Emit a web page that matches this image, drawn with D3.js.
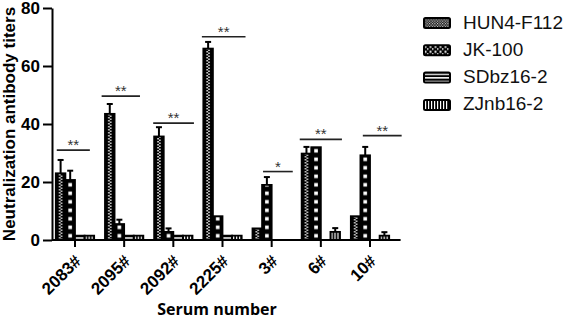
<!DOCTYPE html>
<html>
<head>
<meta charset="utf-8">
<script src="https://d3js.org/d3.v7.min.js"></script>
<style>
  body { margin: 0; background: #fff; }
  svg { font-family: "Liberation Sans", Arial, sans-serif; }
</style>
</head>
<body>
<script>
// data
var groups = ["2083#", "2095#", "2092#", "2225#", "3#", "6#", "10#"];
var seriesNames = ["HUN4-F112", "JK-100", "SDbz16-2", "ZJnb16-2"];
var hun4 = [23, 43.5, 35.7, 66, 4, 29.8, 8.2];
var hun4Err = [4.6, 3.4, 3.2, 2.3, 0, 2.3, 0];
var jk100 = [20.7, 5.5, 2.8, 8.2, 19, 32, 29.2];
var jk100Err = [3.2, 1.5, 1.2, 0, 2.7, 0, 2.9];
var sdbz = [1.5, 1.5, 1.5, 1.5, 0, 0, 0];
var sdbzErr = [0, 0, 0, 0, 0, 0, 0];
var zjnb = [1.5, 1.5, 1.5, 1.5, 0, 2.8, 1.5];
var zjnbErr = [0, 0, 0, 0, 0, 1.3, 1.2];
var yTicks = [0, 20, 40, 60, 80];
// significance marks: level (y value), start/end in bar units from group start
var sigLabel = ["**", "**", "**", "**", "*", "**", "**"];
var sigY = [31, 49.6, 40.3, 70.1, 23.6, 34.7, 36];
var sigFrom = [0.1, -0.35, -0.1, -0.15, 1.1, -0.2, 1.25];
var sigTo = [3.55, 3.65, 4.15, 4.4, 4.2, 4.2, 5.3];

var values = [hun4, jk100, sdbz, zjnb];
var errs = [hun4Err, jk100Err, sdbzErr, zjnbErr];

var w = 563, h = 320;
var svg = d3.select("body").append("svg").attr("width", w).attr("height", h);
var defs = svg.append("defs");

var x = d3.scaleBand().domain(groups).range([50.4, 394.6]).paddingInner(0.22).paddingOuter(0.11);
var xs = d3.scaleBand().domain(d3.range(4)).range([0, x.bandwidth()]);
var y = d3.scaleLinear().domain([0, 80]).range([240, 8]);

// pattern fills, tile content per series
function fillTile(p, s, tw, legend) {
  p.append("rect").attr("width", tw).attr("height", 40).attr("fill", "#000");
  if (s == 0) {
    if (legend) {
      p.attr("width", 2.6).attr("height", 2.6);
      p.append("rect").attr("x", 0).attr("y", 0).attr("width", 1.1).attr("height", 1.1).attr("fill", "#fff");
      p.append("rect").attr("x", 1.3).attr("y", 1.3).attr("width", 1.1).attr("height", 1.1).attr("fill", "#fff");
    } else {
      p.attr("height", 3);
      p.append("rect").attr("x", tw / 2 - 1.6).attr("y", 0).attr("width", 1.4).attr("height", 1.5).attr("fill", "#fff");
      p.append("rect").attr("x", tw / 2 + 0.2).attr("y", 1.5).attr("width", 1.4).attr("height", 1.5).attr("fill", "#fff");
    }
  } else if (s == 1) {
    if (legend) {
      p.attr("width", 5).attr("height", 5);
      p.append("rect").attr("x", 0.5).attr("y", 0.5).attr("width", 2).attr("height", 2).attr("fill", "#fff");
      p.append("rect").attr("x", 3).attr("y", 3).attr("width", 1.5).attr("height", 1.5).attr("fill", "#fff");
    } else {
      p.attr("height", 8.5);
      p.append("rect").attr("x", tw / 2 - 1.8).attr("y", 2.5).attr("width", 3.6).attr("height", 3.6).attr("fill", "#fff");
    }
  } else if (s == 2) {
    p.attr("height", 3.6);
    p.append("rect").attr("x", 0).attr("y", 0.9).attr("width", tw).attr("height", 1.5).attr("fill", "#fff");
  } else {
    p.attr("width", 3).attr("height", 10);
    p.append("rect").attr("x", 1).attr("y", 0).attr("width", 1.2).attr("height", 10).attr("fill", "#fff");
  }
}

var bars = [];
groups.forEach(function (g, gi) {
  values.forEach(function (vals, s) {
    bars.push({ g: g, gi: gi, s: s, v: vals[gi], e: errs[s][gi] });
  });
});

bars.forEach(function (d) {
  var bx = x(d.g) + xs(d.s);
  var p = defs.append("pattern").attr("id", "p" + d.s + "_" + d.gi)
    .attr("patternUnits", "userSpaceOnUse")
    .attr("x", bx).attr("y", y(0)).attr("width", xs.bandwidth());
  fillTile(p, d.s, xs.bandwidth(), false);
});

svg.append("g").selectAll("rect").data(bars.filter(function (d) { return d.v > 0; })).enter()
  .append("rect")
  .attr("x", function (d) { return x(d.g) + xs(d.s); })
  .attr("y", function (d) { return y(d.v); })
  .attr("width", xs.bandwidth())
  .attr("height", function (d) { return y(0) - y(d.v); })
  .attr("fill", function (d) { return "url(#p" + d.s + "_" + d.gi + ")"; })
  .attr("stroke", "#000").attr("stroke-width", 1.8);

// error bars (upper)
var eb = svg.append("g").attr("stroke", "#000").attr("stroke-width", 2);
bars.filter(function (d) { return d.e > 0; }).forEach(function (d) {
  var cx = x(d.g) + xs(d.s) + xs.bandwidth() / 2;
  eb.append("line").attr("x1", cx).attr("x2", cx).attr("y1", y(d.v)).attr("y2", y(d.v + d.e));
  eb.append("line").attr("x1", cx - 3).attr("x2", cx + 3).attr("y1", y(d.v + d.e)).attr("y2", y(d.v + d.e));
});

// significance lines
var unit = xs.bandwidth();
groups.forEach(function (g, i) {
  var x1 = x(g) + sigFrom[i] * unit, x2 = x(g) + sigTo[i] * unit;
  svg.append("line").attr("x1", x1).attr("x2", x2).attr("y1", y(sigY[i])).attr("y2", y(sigY[i]))
    .attr("stroke", "#222").attr("stroke-width", 1.6);
  svg.append("text").attr("x", (x1 + x2) / 2).attr("y", y(sigY[i]) + 0)
    .attr("text-anchor", "middle").style("font-size", "15px").attr("fill", "#333").text(sigLabel[i]);
});

// y axis
var yAxis = d3.axisLeft(y).tickValues(yTicks).tickSize(9).tickPadding(3).tickSizeOuter(0);
var gy = svg.append("g").attr("transform", "translate(52,0)").call(yAxis);
gy.selectAll("path, line").attr("stroke", "#000").attr("stroke-width", 2);
gy.selectAll("text").style("font-size", "17px").style("font-weight", "bold").attr("fill", "#000");

// x axis
var xAxis = d3.axisBottom(x).tickSize(7).tickSizeOuter(0);
var gx = svg.append("g").attr("transform", "translate(0,240)").call(xAxis);
gx.select(".domain").remove();
gx.append("line").attr("x1", 52).attr("x2", x.range()[1] + 6).attr("stroke", "#000").attr("stroke-width", 2);
gx.selectAll(".tick line").attr("stroke", "#000").attr("stroke-width", 2);
gx.selectAll(".tick text")
  .style("font-size", "17px").style("font-weight", "bold").attr("fill", "#000")
  .attr("text-anchor", "end").attr("dy", "0.35em")
  .attr("transform", "translate(3,18) rotate(-45)").attr("x", 0).attr("y", 0);

// axis titles
svg.append("text").attr("transform", "translate(15,124) rotate(-90)")
  .attr("text-anchor", "middle").style("font-size", "17px").style("font-weight", "bold")
  .text("Neutralization antibody titers");
svg.append("text").attr("x", 217).attr("y", 315).attr("text-anchor", "middle")
  .style("font-family", "'Open Sans', sans-serif").style("font-size", "16px").style("font-weight", "bold")
  .text("Serum number");

// legend
var leg = svg.append("g");
seriesNames.forEach(function (name, i) {
  var by = 18 + i * 27.3;
  var p = defs.append("pattern").attr("id", "lp" + i).attr("patternUnits", "userSpaceOnUse")
    .attr("x", 424).attr("y", by).attr("width", 26);
  fillTile(p, i, 26, true);
  leg.append("rect").attr("x", 424).attr("y", by).attr("width", 26).attr("height", 10).attr("rx", 1.5)
    .attr("fill", "url(#lp" + i + ")").attr("stroke", "#000").attr("stroke-width", 2);
  leg.append("text").attr("x", 463).attr("y", by + 10.5).style("font-size", "19px").attr("fill", "#111").text(name);
});
</script>
</body>
</html>
